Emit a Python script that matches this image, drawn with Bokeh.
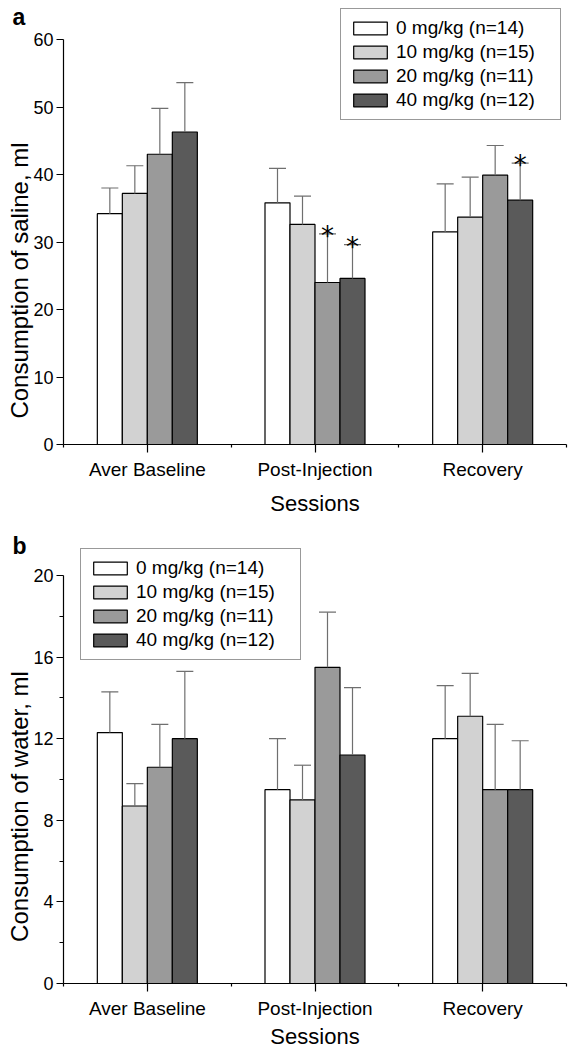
import numpy as np
from bokeh.plotting import figure
from bokeh.models import Range1d, FixedTicker, Legend, LegendItem, Label
from bokeh.layouts import column
from bokeh.embed import file_html
from bokeh.resources import INLINE
from bokeh.core.properties import value

# ---------------- data ----------------
categories = ["Aver Baseline", "Post-Injection", "Recovery"]
doses = ["0 mg/kg (n=14)", "10 mg/kg (n=15)", "20 mg/kg (n=11)", "40 mg/kg (n=12)"]

# (a) saline consumption, ml  (mean, SEM)
saline_0 = [34.2, 35.8, 31.5]
saline_10 = [37.2, 32.6, 33.7]
saline_20 = [43.0, 24.0, 39.9]
saline_40 = [46.3, 24.6, 36.2]
saline_sem_0 = [3.8, 5.1, 7.1]
saline_sem_10 = [4.1, 4.2, 5.9]
saline_sem_20 = [6.8, 7.2, 4.4]
saline_sem_40 = [7.3, 5.0, 5.5]
saline_sig_session = [1, 1, 2]   # asterisks: session index
saline_sig_dose = [2, 3, 3]      # asterisks: dose index

# (b) water consumption, ml  (mean, SEM)
water_0 = [12.3, 9.5, 12.0]
water_10 = [8.7, 9.0, 13.1]
water_20 = [10.6, 15.5, 9.5]
water_40 = [12.0, 11.2, 9.5]
water_sem_0 = [2.0, 2.5, 2.6]
water_sem_10 = [1.1, 1.7, 2.1]
water_sem_20 = [2.1, 2.7, 3.2]
water_sem_40 = [3.3, 3.3, 2.4]
water_sig_session = []
water_sig_dose = []

saline_ticks = [0, 10, 20, 30, 40, 50, 60]
saline_minor = []
water_ticks = [0, 4, 8, 12, 16, 20]
water_minor = [2, 6, 10, 14, 18]

# ---------------- style / layout (picture pixels) ----------------
FONT = "Liberation Sans"
FILLS = ["#ffffff", "#d2d2d2", "#9a9a9a", "#5a5a5a"]
ERR = "#6f6f6f"
PAGE_L, PAGE_R = 0, 569           # figure spans these columns
AXIS_X = 63                       # x of the y axis (x = 0)
X_PX = (566 - AXIS_X) / 3.0       # px per x unit
BAR_W = 25 / X_PX
CAP_W = 17 / X_PX


def x_of(px):
    return (px - AXIS_X) / X_PX


def make_panel(means, sems, sig_s, sig_d, ticks, minor, zero_py, ppu, top_py, bot_py,
               ylabel, ylabel_cy, letter, letter_py, sessions_py, legend_left, legend_top):
    def y_of(py):
        return (zero_py - py) / ppu

    fig_h = bot_py - top_py
    p = figure(width=PAGE_R - PAGE_L, height=fig_h,
               x_range=Range1d(x_of(PAGE_L), x_of(PAGE_R)),
               y_range=Range1d(y_of(bot_py), y_of(top_py)),
               output_backend="svg", toolbar_location=None,
               min_border_left=0, min_border_right=0, min_border_top=0, min_border_bottom=0)
    p.outline_line_color = None
    p.xgrid.grid_line_color = None
    p.ygrid.grid_line_color = None
    p.background_fill_color = "white"

    renderers = []
    for j in range(4):
        xs = np.arange(3) + 0.5 + (j - 1.5) * BAR_W
        m = np.array(means[j], dtype=float)
        top = m + np.array(sems[j], dtype=float)
        r = p.vbar(x=xs, top=m, bottom=0, width=BAR_W, fill_color=FILLS[j],
                   line_color="black", line_width=1.2)
        renderers.append(r)
        p.segment(x0=xs, y0=m, x1=xs, y1=top, line_color=ERR, line_width=1.2)
        p.segment(x0=xs - CAP_W / 2, y0=top, x1=xs + CAP_W / 2, y1=top,
                  line_color=ERR, line_width=1.2)

    if sig_s:
        sx = [s + 0.5 + (d - 1.5) * BAR_W for s, d in zip(sig_s, sig_d)]
        sy = [means[d][s] + sems[d][s] for s, d in zip(sig_s, sig_d)]
        p.text(x=sx, y=sy, text=["*"] * len(sx), text_font=value("DejaVu Sans"),
               text_font_size="26px", text_align="center", text_baseline="alphabetic",
               y_offset=2, text_color="black")

    # axes (fixed at x = 0 / y = 0 so the frame fills the whole figure)
    xa = p.xaxis[0]
    xa.fixed_location = 0
    xa.ticker = FixedTicker(ticks=[0.5, 1.5, 2.5], minor_ticks=[0, 1, 2, 3])
    xa.major_label_overrides = {0.5: categories[0], 1.5: categories[1], 2.5: categories[2]}
    xa.bounds = (0, 3)
    xa.axis_line_width = 1.2
    xa.major_tick_line_width = 1.2
    xa.minor_tick_line_width = 1.2
    xa.major_tick_out = 8
    xa.major_tick_in = 0
    xa.minor_tick_out = 3
    xa.minor_tick_in = 0
    xa.major_label_standoff = 6
    xa.major_label_text_font = FONT
    xa.major_label_text_font_size = "19px"
    xa.major_label_text_color = "black"

    ya = p.yaxis[0]
    ya.fixed_location = 0
    ya.ticker = FixedTicker(ticks=ticks, minor_ticks=minor)
    ya.bounds = (0, ticks[-1])
    ya.axis_line_width = 1.2
    ya.major_tick_line_width = 1.2
    ya.minor_tick_line_width = 1.2
    ya.major_tick_out = 7
    ya.major_tick_in = 0
    ya.minor_tick_out = 4
    ya.minor_tick_in = 0
    ya.major_label_standoff = 3
    ya.major_label_text_font = FONT
    ya.major_label_text_font_size = "18px"
    ya.major_label_text_color = "black"

    leg_h = 110
    legend = Legend(items=[LegendItem(label=doses[j], renderers=[renderers[j]]) for j in range(4)],
                    location=(legend_left - PAGE_L, fig_h - (legend_top - top_py) - leg_h),
                    orientation="vertical",
                    glyph_width=42, glyph_height=16, label_height=22, label_width=156,
                    label_standoff=5, spacing=2, padding=8, margin=0,
                    border_line_color="#333333", border_line_width=1.2,
                    background_fill_color="white", background_fill_alpha=1.0,
                    label_text_font=FONT, label_text_font_size="19px",
                    label_text_color="black")
    p.add_layout(legend)

    # axis titles and panel letter
    p.add_layout(Label(x=x_of(19), y=y_of(ylabel_cy), text=ylabel, angle=np.pi / 2,
                       text_align="center", text_baseline="middle", text_font=FONT,
                       text_font_size="24px", text_color="black"))
    p.add_layout(Label(x=1.5, y=y_of(sessions_py), text="Sessions", text_align="center",
                       text_baseline="middle", text_font=FONT, text_font_size="22px",
                       text_color="black"))
    p.add_layout(Label(x=x_of(12), y=y_of(letter_py), text=letter, text_align="left",
                       text_baseline="alphabetic", text_font=FONT, text_font_size="23px",
                       text_font_style="bold", text_color="black"))
    return p


pa = make_panel([saline_0, saline_10, saline_20, saline_40],
                [saline_sem_0, saline_sem_10, saline_sem_20, saline_sem_40],
                saline_sig_session, saline_sig_dose, saline_ticks, saline_minor,
                zero_py=444, ppu=6.75, top_py=0, bot_py=520,
                ylabel="Consumption of saline, ml", ylabel_cy=280,
                letter="a", letter_py=16, sessions_py=503,
                legend_left=340, legend_top=10)
pb = make_panel([water_0, water_10, water_20, water_40],
                [water_sem_0, water_sem_10, water_sem_20, water_sem_40],
                water_sig_session, water_sig_dose, water_ticks, water_minor,
                zero_py=983, ppu=20.4, top_py=520, bot_py=1050,
                ylabel="Consumption of water, ml", ylabel_cy=806,
                letter="b", letter_py=545, sessions_py=1036,
                legend_left=80, legend_top=550)

layout = column(pa, pb, spacing=0)
open("out.html", "w").write(file_html(layout, INLINE))
